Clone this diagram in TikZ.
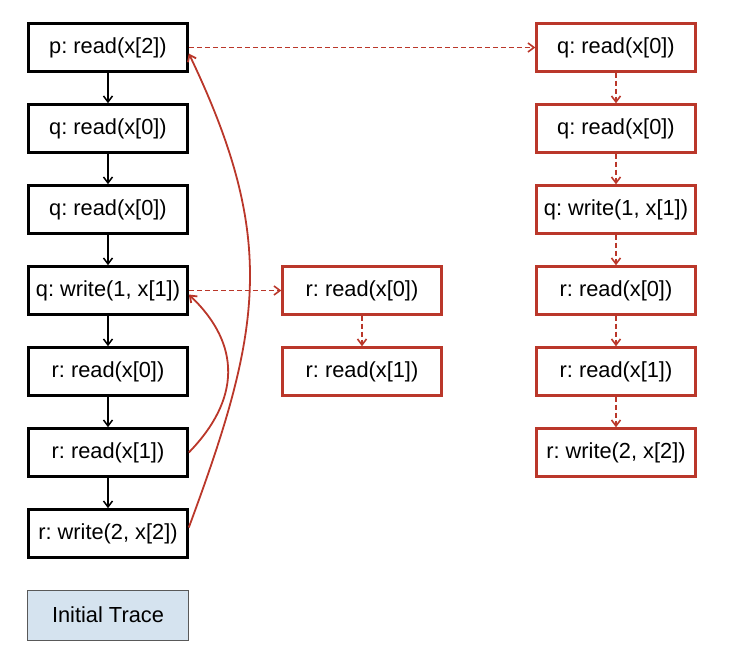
\documentclass[tikz,border=0pt]{standalone}
\usepackage{fontspec}
\setmainfont{Liberation Sans}
\frenchspacing
\usetikzlibrary{arrows.meta}
\definecolor{rouge}{RGB}{186,55,42}
\definecolor{bleu}{RGB}{213,227,239}
\begin{document}
\begin{tikzpicture}[x=1pt,y=-1pt,
    boite/.style={draw=black, line width=2.6pt, fill=white, minimum width=159pt,
      minimum height=48pt, inner sep=0pt, font=\fontsize{21.8}{26}\selectfont},
    boiterouge/.style={boite, draw=rouge, line width=2.4pt},
    fleche/.style={-{Straight Barb[length=6pt,width=9pt]}, line width=1.5pt},
    flecherouge/.style={fleche, rouge, line width=1.6pt, dash pattern=on 5pt off 3pt},
    courbe/.style={fleche, rouge, line width=1.8pt}]
    \useasboundingbox (0,0) rectangle (729,669);

    % Trace initiale (colonne de gauche)
    \node[boite] (p)  at (108,47.5)  {p: read(x[2])};
    \node[boite] (q1) at (108,128.5) {q: read(x[0])};
    \node[boite] (q2) at (108,209.5) {q: read(x[0])};
    \node[boite] (q3) at (108,290.5) {q: write(1, x[1])};
    \node[boite] (r1) at (108,371.5) {r: read(x[0])};
    \node[boite] (r2) at (108,452.5) {r: read(x[1])};
    \node[boite] (r3) at (108,533.5) {r: write(2, x[2])};

    \draw[fleche] (p) -- (q1);
    \draw[fleche] (q1) -- (q2);
    \draw[fleche] (q2) -- (q3);
    \draw[fleche] (q3) -- (r1);
    \draw[fleche] (r1) -- (r2);
    \draw[fleche] (r2) -- (r3);

    % Colonne du milieu
    \node[boiterouge] (m1) at (362,290.5) {r: read(x[0])};
    \node[boiterouge] (m2) at (362,371.5) {r: read(x[1])};
    \draw[flecherouge] (m1) -- (m2);
    \draw[flecherouge] (q3) -- (m1);

    % Colonne de droite
    \node[boiterouge] (d1) at (616,47.5)  {q: read(x[0])};
    \node[boiterouge] (d2) at (616,128.5) {q: read(x[0])};
    \node[boiterouge] (d3) at (616,209.5) {q: write(1, x[1])};
    \node[boiterouge] (d4) at (616,290.5) {r: read(x[0])};
    \node[boiterouge] (d5) at (616,371.5) {r: read(x[1])};
    \node[boiterouge] (d6) at (616,452.5) {r: write(2, x[2])};
    \draw[flecherouge] (d1) -- (d2);
    \draw[flecherouge] (d2) -- (d3);
    \draw[flecherouge] (d3) -- (d4);
    \draw[flecherouge] (d4) -- (d5);
    \draw[flecherouge] (d5) -- (d6);
    \draw[flecherouge] (p) -- (d1);

    % Dependances (courbes)
    \draw[courbe] (r2.east) .. controls (240,400) and (242,345) .. ([yshift=-4pt]q3.east);
    \draw[courbe] ([yshift=6pt]r3.east) .. controls (262,330) and (278,240) .. ([yshift=-6pt]p.east);

    % Legende
    \node[draw=black!65, line width=0.8pt, fill=bleu, minimum width=161pt, minimum height=50pt,
      inner sep=0pt, font=\fontsize{21.8}{26}\selectfont] (leg) at (108,615) {Initial Trace};
\end{tikzpicture}
\end{document}
